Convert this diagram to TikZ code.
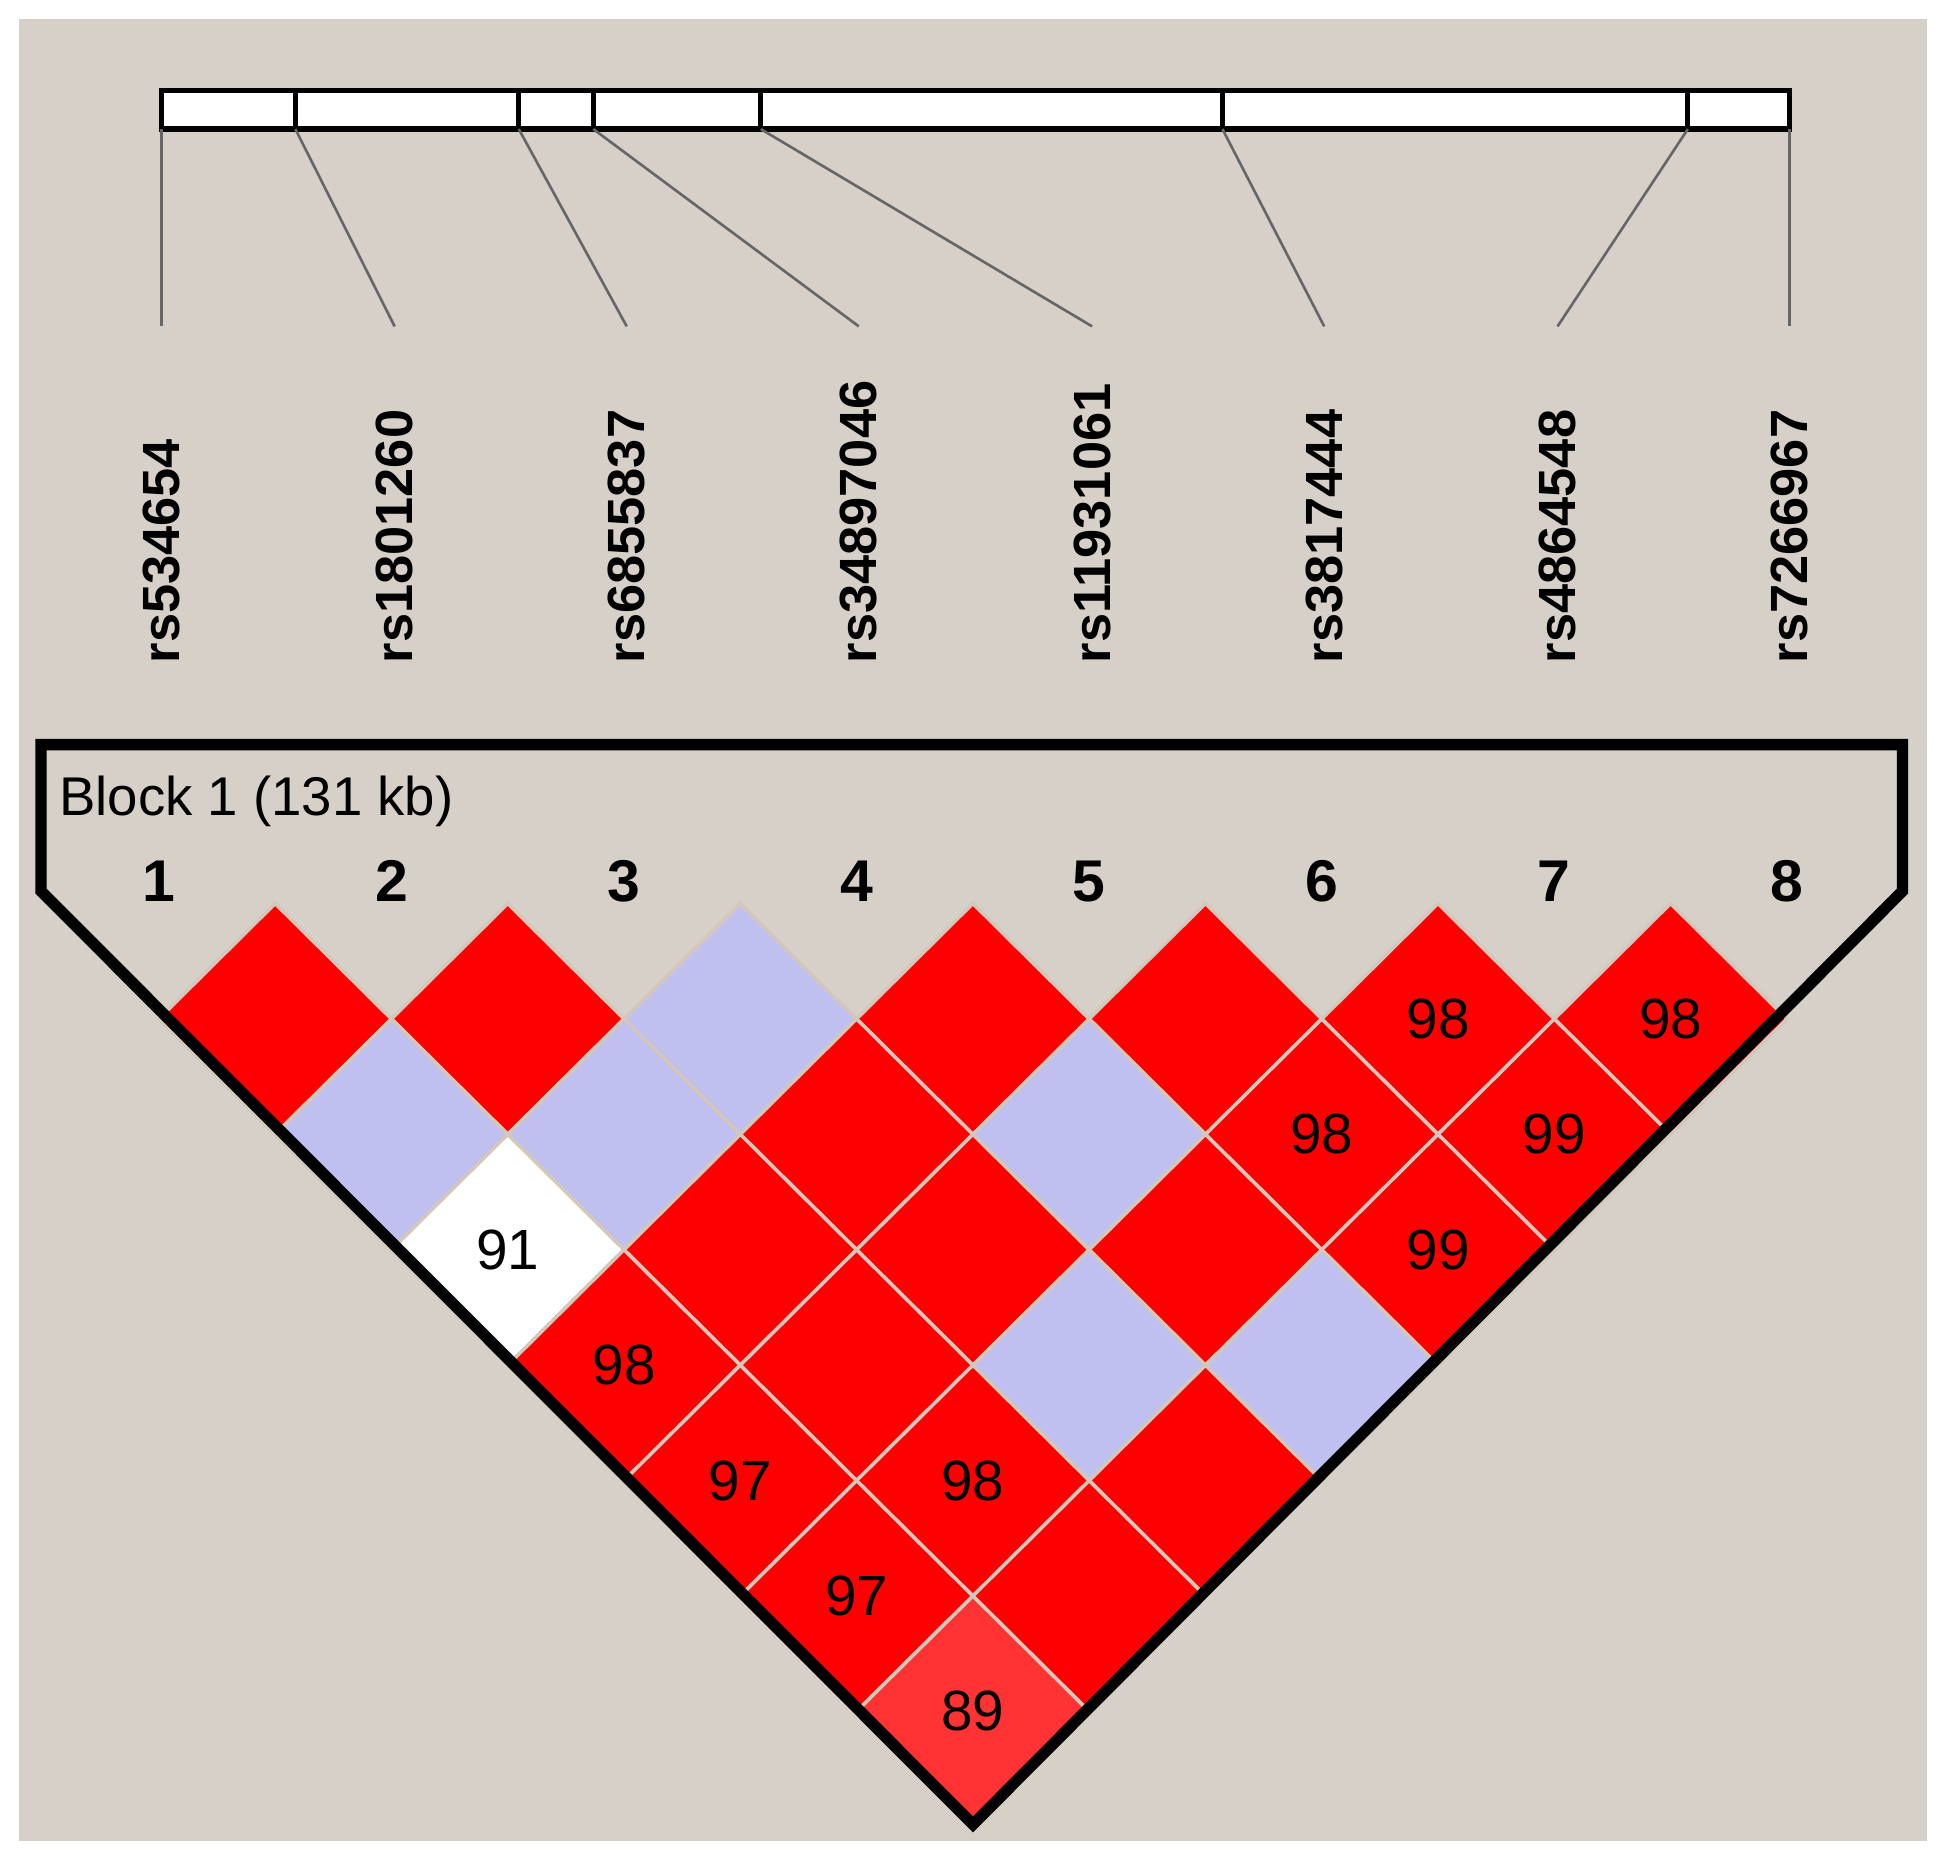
\documentclass[tikz,border=0pt]{standalone}
\usepackage{fontspec}
\setmainfont{Liberation Sans}
\definecolor{bgcol}{HTML}{D6D0C9}
\definecolor{ldred}{HTML}{FF0000}
\definecolor{ldpale}{HTML}{FF3333}
\definecolor{ldblue}{HTML}{C0C0F0}
\definecolor{gridcol}{HTML}{D4C8BC}
\tikzset{
  snplabel/.style={rotate=90, anchor=west, inner sep=0pt, font=\fontsize{12}{13}\selectfont\bfseries},
  snpnum/.style={inner sep=0pt, font=\fontsize{13.5}{14}\selectfont\bfseries},
  cellnum/.style={inner sep=0pt, font=\fontsize{13}{14}\selectfont},
  tickline/.style={draw=gray!80!black, line width=0.6pt}
}
\begin{document}
\begin{tikzpicture}[x=0.01cm, y=-0.01cm]
		% Background and frame
		\useasboundingbox (0,0) rectangle (1568,1500);
		\fill[white] (0,0) rectangle (1568,1500);
		\fill[bgcol] (15,15) rectangle (1553,1483);
		% Physical map bar
		\draw[fill=white, line width=1.2pt] (130,73) rectangle (1442,104);
		\foreach \t in {238, 418, 478, 613, 985, 1360}
			\draw[line width=1.2pt] (\t,73) -- (\t,104);
		% SNP names and connectors
		\foreach \k/\b/\m/\name in {1/130/130/rs534654, 2/238/318/rs1801260, 3/418/505/rs6855837, 4/478/692/rs34897046,
				5/613/880/rs11931061, 6/985/1067/rs3817444, 7/1360/1255/rs4864548, 8/1442/1442/rs7266967} {
			\coordinate (bar\k) at (\b,104);
			\coordinate (leg\k) at (\m,263);
			\draw[tickline] (bar\k) -- (leg\k);
			\node[snplabel] (snp\k) at (\m,535) {\name};
		}
		% LD cells
		\foreach \i/\j/\col/\val in {1/2/ldred/, 2/3/ldred/, 3/4/ldblue/, 4/5/ldred/, 5/6/ldred/, 6/7/ldred/98, 7/8/ldred/98,
				1/3/ldblue/, 2/4/ldblue/, 3/5/ldred/, 4/6/ldblue/, 5/7/ldred/98, 6/8/ldred/99,
				1/4/white/91, 2/5/ldred/, 3/6/ldred/, 4/7/ldred/, 5/8/ldred/99,
				1/5/ldred/98, 2/6/ldred/, 3/7/ldblue/, 4/8/ldblue/,
				1/6/ldred/97, 2/7/ldred/98, 3/8/ldred/,
				1/7/ldred/97, 2/8/ldred/,
				1/8/ldpale/89} {
			\pgfmathsetmacro{\cx}{128+187.4*(\i+\j-2)/2}
			\pgfmathsetmacro{\cy}{728+93*(\j-\i)}
			\filldraw[fill=\col, draw=gridcol, line width=0.8pt]
				(\cx,\cy-93) -- (\cx+93.7,\cy) -- (\cx,\cy+93) -- (\cx-93.7,\cy) -- cycle;
			\node[cellnum] (cell\i\j) at (\cx,\cy) {\val};
		}
		% Block outline
		\draw[line width=2.6pt, line join=miter] (33,600) -- (1533,600) -- (1533,718) -- (784,1470) -- (33,718) -- cycle;
		\node[anchor=west, inner sep=0pt, font=\fontsize{12.5}{14}\selectfont] (block) at (47,646) {Block 1 (131 kb)};
		\foreach \k in {1,...,8}
			\node[snpnum] (num\k) at ({128+187.4*(\k-1)},710) {\k};
	\end{tikzpicture}
\end{document}
